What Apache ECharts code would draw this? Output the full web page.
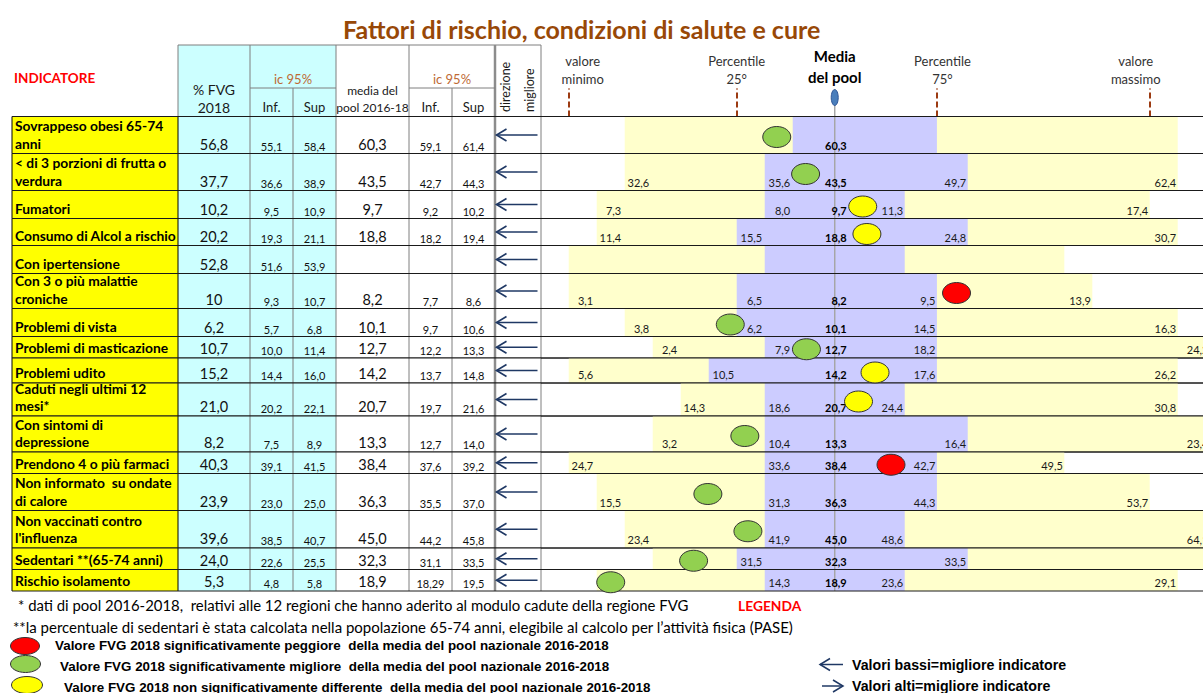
<!DOCTYPE html>
<html>
<head>
<meta charset="utf-8">
<title>Fattori di rischio, condizioni di salute e cure</title>
<script src="https://cdn.jsdelivr.net/npm/echarts@6/dist/echarts.min.js"></script>
<style>
  html, body { margin: 0; padding: 0; background: #fff; }
  #chart { width: 1203px; height: 693px; }
</style>
</head>
<body>
<div id="chart"></div>
<script>
const indicators = [
  'Sovrappeso obesi 65-74\nanni',
  '< di 3 porzioni di frutta o\nverdura',
  'Fumatori',
  'Consumo di Alcol a rischio',
  'Con ipertensione',
  'Con 3 o più malattie\ncroniche',
  'Problemi di vista',
  'Problemi di masticazione',
  'Problemi udito',
  'Caduti negli ultimi 12\nmesi*',
  'Con sintomi di\ndepressione',
  'Prendono 4 o più farmaci',
  'Non informato  su ondate\ndi calore',
  'Non vaccinati contro\nl\'influenza',
  'Sedentari **(65-74 anni)',
  'Rischio isolamento'
]
const fvg = ['56,8', '37,7', '10,2', '20,2', '52,8', '10', '6,2', '10,7', '15,2', '21,0', '8,2', '40,3', '23,9', '39,6', '24,0', '5,3']
const fvgInf = ['55,1', '36,6', '9,5', '19,3', '51,6', '9,3', '5,7', '10,0', '14,4', '20,2', '7,5', '39,1', '23,0', '38,5', '22,6', '4,8']
const fvgSup = ['58,4', '38,9', '10,9', '21,1', '53,9', '10,7', '6,8', '11,4', '16,0', '22,1', '8,9', '41,5', '25,0', '40,7', '25,5', '5,8']
const pool = ['60,3', '43,5', '9,7', '18,8', '', '8,2', '10,1', '12,7', '14,2', '20,7', '13,3', '38,4', '36,3', '45,0', '32,3', '18,9']
const poolInf = ['59,1', '42,7', '9,2', '18,2', '', '7,7', '9,7', '12,2', '13,7', '19,7', '12,7', '37,6', '35,5', '44,2', '31,1', '18,29']
const poolSup = ['61,4', '44,3', '10,2', '19,4', '', '8,6', '10,6', '13,3', '14,8', '21,6', '14,0', '39,2', '37,0', '45,8', '33,5', '19,5']
const better = ['low', 'low', 'low', 'low', 'low', 'low', 'low', 'low', 'low', 'low', 'low', 'low', 'low', 'low', 'low', 'low']

// spine labels (pool distribution)
const minLbl = [null, '32,6', '7,3', '11,4', null, '3,1', '3,8', '2,4', '5,6', '14,3', '3,2', '24,7', '15,5', '23,4', null, null]
const p25Lbl = [null, '35,6', '8,0', '15,5', null, '6,5', '6,2', '7,9', '10,5', '18,6', '10,4', '33,6', '31,3', '41,9', '31,5', '14,3']
const p75Lbl = [null, '49,7', '11,3', '24,8', null, '9,5', '14,5', '18,2', '17,6', '24,4', '16,4', '42,7', '44,3', '48,6', '33,5', '23,6']
const maxLbl = [null, '62,4', '17,4', '30,7', null, '13,9', '16,3', '24,2', '26,2', '30,8', '23,4', '49,5', '53,7', '64,1', null, '29,1']

// spine positions, in spine cells (pool mean = 0)
const minPos = [-7.5, -7.5, -8.5, -8.5, -9.5, -9.5, -7.5, -6.5, -9.5, -5.5, -6.5, -9.5, -8.5, -7.5, -6.5, -8.5]
const p25Pos = [-1.5, -2.5, -2.5, -3.5, -2.5, -3.5, -3.5, -2.5, -4.5, -2.5, -2.5, -2.5, -2.5, -2.5, -3.5, -2.5]
const p75Pos = [3.65, 4.75, 2.5, 4.75, 2.5, 3.65, 3.65, 3.65, 3.65, 2.5, 4.75, 3.65, 3.65, 2.5, 4.75, 2.5]
const maxPos = [12.25, 12.25, 11.25, 12.25, 8.2, 9.2, 12.25, 13.4, 12.25, 12.25, 13.4, 8.2, 11.25, 13.4, 13.4, 12.25]
const fvgPos = [-2.07, -1.04, 1.0, 1.15, null, 4.35, -3.73, -1.01, 1.44, 0.85, -3.21, 2.01, -4.53, -3.1, -5.04, -8.0]
const signif = ['migliore', 'migliore', 'uguale', 'uguale', null, 'peggiore', 'migliore', 'migliore', 'uguale', 'uguale',
  'migliore', 'peggiore', 'migliore', 'migliore', 'migliore', 'migliore']

// header ticks of the spine
const headTicks = [-9.5, -3.5, 3.65, 11.25]
const headLabelAt = [-9.0, -3.5, 0, 3.85, 10.75]
const headLabels = ['valore\nminimo', 'Percentile\n25°', 'Media\ndel pool', 'Percentile\n75°', 'valore\nmassimo']

// ---- layout ----
const F = 'Lato, "Noto Sans", sans-serif'
const NARROW = '"Liberation Sans Narrow", "Arial Narrow", "Liberation Sans", sans-serif'
const ROW_H = [37, 37, 28, 27, 28, 35, 28, 21.5, 25, 33, 36, 21.5, 37, 37.5, 21.5, 21.5]
const COL_W = [166, 72, 43, 43, 73, 43, 43, 46]
const TOP = 116.5
const HEAD_TOP = 45
const TABLE_LEFT = 12
const CELL = 28
const WIDTH = 1203

const rowTop = []
const rowBot = []
let acc = 0
ROW_H.forEach(h => { rowTop.push(acc); acc += h; rowBot.push(acc) })
const TOTAL_H = acc
const colEdge = [0]
COL_W.forEach(w => colEdge.push(colEdge[colEdge.length - 1] + w))
const TABLE_W = colEdge[colEdge.length - 1]
const SPINE_LEFT = TABLE_LEFT + TABLE_W
const SPINE_W = WIDTH - SPINE_LEFT
const SPINE_MIN = -10.49
const SPINE_MAX = SPINE_MIN + SPINE_W / CELL

const DOT_COLOR = { peggiore: '#ff0000', migliore: '#92d050', uguale: '#ffff00' }
const COL_FILL = ['#ffff00', '#ccffff', '#ccffff', '#ccffff', '#ffffff', '#ffffff', '#ffffff', '#ffffff']
const V_LINE = [
  ['#000', 1], ['#000', 1], ['#7f7f7f', 1], ['#7f7f7f', 1], ['#7f7f7f', 1],
  ['#7f7f7f', 1], ['#7f7f7f', 1], ['#8c8c8c', 2.5], ['#7f7f7f', 1]
]
const ARROW = '#1f3864'

function txt (text, x, y, font, align, fill, extra) {
  return Object.assign({
    type: 'text',
    style: { text, x, y, font, textAlign: align || 'left', textVerticalAlign: 'middle', fill: fill || '#111' }
  }, extra || {})
}

function arrowShape (x0, x1, y, dir, width) {
  const tip = dir === 'low' ? x0 : x1
  const back = dir === 'low' ? 10 : -10
  return [
    { type: 'line', shape: { x1: x0, y1: y, x2: x1, y2: y }, style: { stroke: ARROW, lineWidth: width } },
    { type: 'polyline', shape: { points: [[tip + back, y - 6], [tip, y], [tip + back, y + 6]] },
      style: { stroke: ARROW, lineWidth: width, fill: null } }
  ]
}

function renderTableRow (params, api) {
  const y0 = api.value(1)
  const y1 = api.value(2)
  const i = api.value(3)
  const P = (x, y) => api.coord([x, y])
  const top = P(0, y0)[1]
  const bot = P(0, y1)[1]
  const mid = (top + bot) / 2
  const children = []
  for (let c = 0; c < COL_W.length; c++) {
    const a = P(colEdge[c], y0)
    const b = P(colEdge[c + 1], y1)
    children.push({ type: 'rect', shape: { x: a[0], y: a[1], width: b[0] - a[0], height: b[1] - a[1] },
      style: { fill: COL_FILL[c] } })
  }
  colEdge.forEach((e, c) => {
    const x = P(e, y0)[0]
    children.push({ type: 'line', shape: { x1: x, y1: top, x2: x, y2: bot },
      style: { stroke: V_LINE[c][0], lineWidth: V_LINE[c][1] } })
  })
  const xl = P(0, y0)[0]
  const xr = P(TABLE_W, y0)[0]
  children.push({ type: 'line', shape: { x1: xl, y1: top, x2: xr, y2: top }, style: { stroke: '#1a1a1a', lineWidth: 1 } })
  children.push({ type: 'line', shape: { x1: xl, y1: bot, x2: xr, y2: bot }, style: { stroke: '#1a1a1a', lineWidth: 1 } })

  const cx = c => P((colEdge[c] + colEdge[c + 1]) / 2, y0)[0]
  children.push({
    type: 'text',
    style: { text: indicators[i], x: xl + 3, y: bot - 1.5, font: 'bold 13.8px ' + F, textAlign: 'left',
      textVerticalAlign: 'bottom', lineHeight: 17.5, fill: '#000' }
  })
  const big = '14.5px ' + F
  const small = '11px ' + F
  children.push(txt(fvg[i], cx(1), bot - 9.5, big, 'center'))
  children.push(txt(fvgInf[i], cx(2), bot - 7.5, small, 'center'))
  children.push(txt(fvgSup[i], cx(3), bot - 7.5, small, 'center'))
  children.push(txt(pool[i], cx(4), bot - 9.5, big, 'center'))
  children.push(txt(poolInf[i], cx(5), bot - 7.5, small, 'center'))
  children.push(txt(poolSup[i], cx(6), bot - 7.5, small, 'center'))
  const a0 = P(colEdge[7], y0)[0] + 1.5
  const a1 = P(colEdge[8], y0)[0] - 3.5
  arrowShape(a0, a1, mid, better[i], 1.6).forEach(el => children.push(el))
  return { type: 'group', children }
}

function renderSpineRow (params, api) {
  const y0 = api.value(1)
  const y1 = api.value(2)
  const i = api.value(3)
  const C = (x, y) => api.coord([x, y])
  const top = C(0, y0)[1]
  const bot = C(0, y1)[1]
  const band = (from, to, fill) => {
    const a = C(from, y0)[0]
    const b = C(to, y0)[0]
    return { type: 'rect', shape: { x: a, y: top, width: b - a, height: bot - top }, style: { fill } }
  }
  const children = [
    band(minPos[i], maxPos[i], '#ffffcc'),
    band(p25Pos[i], p75Pos[i], '#ccccff')
  ]
  const xm = C(0, y0)[0]
  children.push({ type: 'line', shape: { x1: xm, y1: top, x2: xm, y2: bot }, style: { stroke: '#a6a6a6', lineWidth: 1.5 } })
  const xl = C(SPINE_MIN, y0)[0]
  const xr = C(SPINE_MAX, y0)[0]
  children.push({ type: 'line', shape: { x1: xl, y1: top, x2: xr, y2: top }, style: { stroke: '#1a1a1a', lineWidth: 1 } })
  children.push({ type: 'line', shape: { x1: xl, y1: bot, x2: xr, y2: bot }, style: { stroke: '#1a1a1a', lineWidth: 1 } })

  const ly = bot - 8.5
  const f = '11px ' + F
  if (minLbl[i]) children.push(txt(minLbl[i], C(minPos[i], y0)[0] + CELL - 3.5, ly, f, 'right', '#1a1a1a'))
  if (p25Lbl[i]) children.push(txt(p25Lbl[i], C(p25Pos[i], y0)[0] + CELL - 2.5, ly, f, 'right', '#1a1a1a'))
  if (pool[i]) children.push(txt(pool[i], xm + 12, ly, 'bold 11px ' + F, 'right', '#000'))
  if (p75Lbl[i]) children.push(txt(p75Lbl[i], C(p75Pos[i], y0)[0] - 1.5, ly, f, 'right', '#1a1a1a'))
  if (maxLbl[i]) children.push(txt(maxLbl[i], C(maxPos[i], y0)[0] - 1.5, ly, f, 'right', '#1a1a1a'))
  return { type: 'group', children }
}

function renderDot (params, api) {
  const i = api.value(2)
  const p = api.coord([api.value(0), api.value(1)])
  return {
    type: 'ellipse',
    shape: { cx: p[0], cy: p[1] + 2, rx: 14, ry: 10.5 },
    style: { fill: DOT_COLOR[signif[i]], stroke: '#333', lineWidth: 1 }
  }
}

const rows = indicators.map((_, i) => [0, rowTop[i], rowBot[i], i])
const dots = []
fvgPos.forEach((x, i) => { if (x !== null) dots.push([x, (rowTop[i] + rowBot[i]) / 2, i]) })

const chart = echarts.init(document.getElementById('chart'), null, { renderer: 'svg' })
chart.setOption({
  animation: false,
  backgroundColor: '#fff',
  title: {
    text: 'Fattori di rischio, condizioni di salute e cure',
    left: 338,
    top: 11,
    textStyle: { color: '#984807', fontSize: 25, fontWeight: 'bold', fontFamily: F }
  },
  grid: [
    { left: TABLE_LEFT, top: TOP, width: TABLE_W, height: TOTAL_H },
    { left: SPINE_LEFT, top: TOP, width: SPINE_W, height: TOTAL_H }
  ],
  xAxis: [
    { type: 'value', gridIndex: 0, min: 0, max: TABLE_W, show: false },
    {
      type: 'value',
      gridIndex: 1,
      min: SPINE_MIN,
      max: SPINE_MAX,
      position: 'top',
      axisLine: { show: false },
      splitLine: { show: false },
      axisTick: {
        show: true,
        customValues: headTicks,
        length: 28,
        lineStyle: { color: '#9c3b12', width: 2, type: [6, 3] }
      },
      axisLabel: {
        customValues: headLabelAt,
        margin: 29,
        color: '#333',
        fontFamily: F,
        fontSize: 13,
        lineHeight: 18,
        formatter: v => {
          const t = headLabels[headLabelAt.indexOf(v)]
          return v === 0 ? t.split('\n').map(s => '{m|' + s + '}').join('\n') : t
        },
        rich: { m: { fontWeight: 'bold', fontSize: 15, lineHeight: 21, color: '#000', fontFamily: F } }
      }
    }
  ],
  yAxis: [
    { type: 'value', gridIndex: 0, min: 0, max: TOTAL_H, inverse: true, show: false },
    { type: 'value', gridIndex: 1, min: 0, max: TOTAL_H, inverse: true, show: false }
  ],
  series: [
    { type: 'custom', name: 'tabella', xAxisIndex: 0, yAxisIndex: 0, silent: true, renderItem: renderTableRow, data: rows },
    { type: 'custom', name: 'pool', xAxisIndex: 1, yAxisIndex: 1, silent: true, renderItem: renderSpineRow, data: rows },
    { type: 'custom', name: 'FVG 2018', xAxisIndex: 1, yAxisIndex: 1, z: 5, silent: true, renderItem: renderDot, data: dots }
  ]
})

// ---- header of the table, marker of the pool mean, notes and legend ----
const hx = c => TABLE_LEFT + (colEdge[c] + colEdge[c + 1]) / 2
const ex = c => TABLE_LEFT + colEdge[c]
const gray = { stroke: '#7f7f7f', lineWidth: 1 }
const hLine = (x1, y1, x2, y2, style) => ({ type: 'line', shape: { x1, y1, x2, y2 }, style: style || gray })
const mean0 = chart.convertToPixel({ gridIndex: 1 }, [0, 0])
const legendArrow = (x0, x1, y, dir) => ({ type: 'group', children: arrowShape(x0, x1, y, dir, 1.5) })

const g = [
  { type: 'rect', shape: { x: ex(1), y: HEAD_TOP, width: ex(4) - ex(1), height: TOP - HEAD_TOP }, style: { fill: '#ccffff' } },
  hLine(ex(1), HEAD_TOP, ex(8), HEAD_TOP),
  hLine(ex(1), HEAD_TOP, ex(1), TOP), hLine(ex(2), HEAD_TOP, ex(2), TOP), hLine(ex(4), HEAD_TOP, ex(4), TOP),
  hLine(ex(5), HEAD_TOP, ex(5), TOP), hLine(ex(8), HEAD_TOP, ex(8), TOP),
  hLine(ex(7), HEAD_TOP, ex(7), TOP, { stroke: '#8c8c8c', lineWidth: 2.5 }),
  hLine(ex(3), 88, ex(3), TOP), hLine(ex(6), 88, ex(6), TOP),
  hLine(ex(2), 88, ex(4), 88), hLine(ex(5), 88, ex(7), 88),
  txt('INDICATORE', 14, 78, 'bold 13.5px ' + F, 'left', '#ff0000'),
  txt('% FVG', hx(1), 89, '14px ' + F, 'center', '#1a1a1a'),
  txt('2018', hx(1), 107, '14px ' + F, 'center', '#1a1a1a'),
  txt('ic 95%', ex(3), 79, '13px ' + F, 'center', '#be6a35'),
  txt('Inf.', hx(2), 107, '13px ' + F, 'center', '#1a1a1a'),
  txt('Sup', hx(3), 107, '13px ' + F, 'center', '#1a1a1a'),
  txt('media del', hx(4), 90, '12px ' + F, 'center', '#1a1a1a'),
  txt('pool 2016-18', hx(4), 107.5, '12px ' + F, 'center', '#1a1a1a'),
  txt('ic 95%', ex(6), 79, '13px ' + F, 'center', '#be6a35'),
  txt('Inf.', hx(5), 107, '13px ' + F, 'center', '#1a1a1a'),
  txt('Sup', hx(6), 107, '13px ' + F, 'center', '#1a1a1a'),
  txt('direzione', 0, 0, '12.5px ' + F, 'left', '#1a1a1a', { x: ex(7) + 10, y: 112, rotation: Math.PI / 2 }),
  txt('migliore', 0, 0, '12.5px ' + F, 'left', '#1a1a1a', { x: ex(7) + 34, y: 112, rotation: Math.PI / 2 }),
  hLine(mean0[0], 104, mean0[0], TOP, { stroke: '#a6a6a6', lineWidth: 1.5 }),
  { type: 'ellipse', shape: { cx: mean0[0], cy: 97.5, rx: 3.5, ry: 8 }, style: { fill: '#4a7ebb', stroke: '#2f5597', lineWidth: 1 } },

  txt('* dati di pool 2016-2018,  relativi alle 12 regioni che hanno aderito al modulo cadute della regione FVG', 18, 605, '14.9px ' + F, 'left', '#000'),
  txt('LEGENDA', 738, 605, 'bold 13.8px ' + F, 'left', '#ff0000'),
  txt('**la percentuale di sedentari è stata calcolata nella popolazione 65-74 anni, elegibile al calcolo per l\u2019attività fisica (PASE)', 13, 626.5, '15px ' + F, 'left', '#000'),
  { type: 'ellipse', shape: { cx: 25, cy: 646, rx: 14.5, ry: 8.5 }, style: { fill: DOT_COLOR.peggiore, stroke: '#333', lineWidth: 1 } },
  { type: 'ellipse', shape: { cx: 25.5, cy: 664, rx: 15, ry: 8.5 }, style: { fill: DOT_COLOR.migliore, stroke: '#333', lineWidth: 1 } },
  { type: 'ellipse', shape: { cx: 27, cy: 685, rx: 15.5, ry: 8.5 }, style: { fill: DOT_COLOR.uguale, stroke: '#333', lineWidth: 1 } },
  txt('Valore FVG 2018 significativamente peggiore  della media del pool nazionale 2016-2018', 55, 645.5, 'bold 13.4px ' + NARROW, 'left', '#000'),
  txt('Valore FVG 2018 significativamente migliore  della media del pool nazionale 2016-2018', 60, 666, 'bold 13.4px ' + NARROW, 'left', '#000'),
  txt('Valore FVG 2018 non significativamente differente  della media del pool nazionale 2016-2018', 64, 687.5, 'bold 13.4px ' + NARROW, 'left', '#000'),
  legendArrow(820, 843, 664.5, 'low'),
  legendArrow(822, 843, 686, 'high'),
  txt('Valori bassi=migliore indicatore', 852, 664.5, 'bold 14.2px "Liberation Sans", Arial, sans-serif', 'left', '#000'),
  txt('Valori alti=migliore indicatore', 852, 686, 'bold 14.2px "Liberation Sans", Arial, sans-serif', 'left', '#000')
]
chart.setOption({ graphic: g })

window.addEventListener('resize', () => chart.resize())
</script>
</body>
</html>
